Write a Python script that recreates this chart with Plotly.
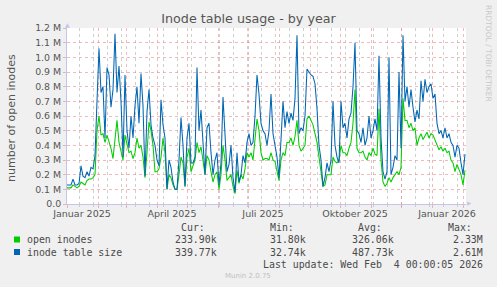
import plotly.graph_objects as go
import pandas as pd

# ---------------- data ----------------
start_date = "2025-01-01"
n_points = 200  # one value every 2 days
dates = pd.date_range(start_date, periods=n_points, freq="2D")

# inode table size (millions)
table_size_M = [
    0.13, 0.13, 0.13, 0.17, 0.13, 0.13, 0.14, 0.26, 0.19, 0.18,
    0.22, 0.19, 0.25, 0.24, 0.33, 0.70, 1.06, 0.76, 0.80, 0.45,
    0.93, 0.88, 0.66, 0.78, 1.16, 0.76, 0.94, 0.70, 0.32, 0.88,
    0.50, 0.38, 0.60, 0.45, 0.67, 0.80, 0.55, 0.89, 0.67, 0.19,
    0.63, 0.78, 0.54, 0.45, 0.40, 0.30, 0.26, 0.71, 0.54, 0.45,
    0.10, 0.30, 0.25, 0.15, 0.10, 0.10, 0.30, 0.59, 0.40, 0.12,
    0.45, 0.55, 0.28, 0.28, 0.32, 0.93, 0.50, 0.64, 0.40, 0.20,
    0.52, 0.55, 0.35, 0.20, 0.30, 0.35, 0.13, 0.28, 0.73, 0.42,
    0.22, 0.27, 0.40, 0.18, 0.08, 0.35, 0.15, 0.20, 0.33, 0.28,
    0.42, 0.48, 0.40, 0.42, 0.60, 0.88, 0.75, 0.55, 0.50, 0.48,
    0.40, 0.50, 0.75, 0.48, 0.40, 0.32, 0.18, 0.45, 0.70, 0.52,
    0.63, 0.55, 0.62, 0.57, 0.72, 1.15, 0.48, 0.52, 0.50, 0.60,
    0.92, 0.90, 0.88, 0.87, 0.82, 0.65, 0.40, 0.30, 0.12, 0.18,
    0.28, 0.22, 0.30, 0.70, 0.40, 0.32, 0.28, 0.70, 0.52, 0.55,
    0.45, 0.58, 0.62, 0.80, 1.10, 0.50, 0.48, 0.42, 0.52, 0.40,
    0.45, 0.60, 0.45, 0.50, 0.58, 0.50, 1.01, 0.45, 0.22, 0.17,
    0.22, 1.00, 0.20, 0.25, 0.33, 0.30, 0.90, 0.38, 1.15, 0.70,
    0.80, 0.66, 0.78, 0.66, 0.56, 0.64, 0.58, 0.84, 0.70, 0.85,
    0.76, 0.80, 0.82, 0.72, 0.75, 0.55, 0.48, 0.50, 0.45, 0.52,
    0.45, 0.48, 0.42, 0.40, 0.32, 0.40, 0.38, 0.28, 0.20, 0.34,
]

# open inodes (millions)
open_inodes_M = [
    0.11, 0.11, 0.11, 0.13, 0.12, 0.11, 0.12, 0.15, 0.14, 0.13,
    0.16, 0.17, 0.17, 0.18, 0.20, 0.50, 0.60, 0.47, 0.48, 0.42,
    0.47, 0.42, 0.38, 0.31, 0.45, 0.57, 0.42, 0.36, 0.30, 0.47,
    0.40, 0.35, 0.36, 0.31, 0.35, 0.45, 0.38, 0.40, 0.32, 0.18,
    0.35, 0.56, 0.50, 0.40, 0.22, 0.22, 0.24, 0.32, 0.45, 0.35,
    0.10, 0.20, 0.18, 0.13, 0.10, 0.10, 0.20, 0.32, 0.28, 0.12,
    0.32, 0.38, 0.22, 0.26, 0.30, 0.42, 0.35, 0.39, 0.30, 0.20,
    0.33, 0.30, 0.22, 0.15, 0.20, 0.22, 0.10, 0.20, 0.40, 0.30,
    0.16, 0.18, 0.20, 0.12, 0.07, 0.23, 0.14, 0.20, 0.17, 0.24,
    0.35, 0.32, 0.35, 0.30, 0.45, 0.58, 0.50, 0.35, 0.30, 0.31,
    0.31, 0.30, 0.35, 0.30, 0.29, 0.22, 0.16, 0.30, 0.35, 0.33,
    0.42, 0.42, 0.45, 0.40, 0.46, 0.57, 0.40, 0.36, 0.38, 0.40,
    0.58, 0.60, 0.57, 0.54, 0.48, 0.42, 0.32, 0.22, 0.12, 0.13,
    0.20, 0.20, 0.20, 0.32, 0.29, 0.28, 0.30, 0.40, 0.35, 0.35,
    0.33, 0.38, 0.42, 0.55, 0.78, 0.38, 0.35, 0.35, 0.36, 0.32,
    0.30, 0.35, 0.33, 0.38, 0.34, 0.33, 0.65, 0.30, 0.15, 0.12,
    0.14, 0.18, 0.15, 0.18, 0.20, 0.22, 0.20, 0.25, 0.72, 0.57,
    0.57, 0.52, 0.55, 0.50, 0.52, 0.40, 0.45, 0.48, 0.44, 0.47,
    0.49, 0.45, 0.48, 0.47, 0.44, 0.40, 0.37, 0.39, 0.36, 0.38,
    0.35, 0.36, 0.30, 0.28, 0.22, 0.27, 0.24, 0.20, 0.13, 0.23,
]

y_tick_values_M = [0.0, 0.1, 0.2, 0.3, 0.4, 0.5, 0.6, 0.7, 0.8, 0.9, 1.0, 1.1, 1.2]
y_tick_text = ["0.0", "0.1 M", "0.2 M", "0.3 M", "0.4 M", "0.5 M", "0.6 M",
               "0.7 M", "0.8 M", "0.9 M", "1.0 M", "1.1 M", "1.2 M"]

x_label_dates = ["2025-01-16", "2025-04-16", "2025-07-16", "2025-10-16", "2026-01-16"]
x_label_text = ["Januar 2025", "April 2025", "Juli 2025", "Oktober 2025", "Januar 2026"]

x_range = ["2025-01-01", "2026-02-04"]
month_starts = pd.date_range("2025-01-01", "2026-02-01", freq="MS")
biweekly = pd.date_range("2025-01-13", "2026-02-03", freq="14D")

series_names = ["open inodes", "inode table size"]
series_colors = ["#00CC00", "#0066B3"]
cur_vals = ["233.90k", "339.77k"]
min_vals = ["31.80k", "32.74k"]
avg_vals = ["326.06k", "487.73k"]
max_vals = ["2.33M", "2.61M"]
last_update = "Last update: Wed Feb  4 00:00:05 2026"

# ---------------- layout geometry ----------------
W, H = 497, 287
L, R, T, B = 67, 466, 28, 204


def px(x):
    return (x - L) / (R - L)


def py(y):
    return (B - y) / (B - T)


RED_GRID = "rgba(230,130,130,0.55)"
GREY_GRID = "rgba(195,195,195,0.8)"
AXIS_COL = "#c4c4ee"
TXT = "#555555"

fig = go.Figure()
# empty helper trace on the base axis (grid carrier)
fig.add_trace(go.Scatter(x=[], y=[], showlegend=False))

series_values = [open_inodes_M, table_size_M]
for name, col, vals in zip(series_names, series_colors, series_values):
    fig.add_trace(go.Scatter(
        x=dates, y=[v * 1e6 for v in vals], mode="lines", name=name,
        xaxis="x2", line=dict(color=col, width=1.05), showlegend=False,
        hoverinfo="skip"))

fig.update_layout(
    width=W, height=H,
    margin=dict(l=L, r=W - R, t=T, b=H - B),
    paper_bgcolor="#f0f0f0", plot_bgcolor="white",
    title=dict(text="Inode table usage - by year", x=0.5, xref="container",
               y=1 - 19 / H, yref="container", xanchor="center", yanchor="middle",
               font=dict(family="DejaVu Sans", size=12.7, color=TXT)),
    # base axis: month grid (red) + biweekly minor grid (grey)
    xaxis=dict(type="date", range=x_range, tickmode="array",
               tickvals=list(month_starts), showticklabels=False,
               ticks="outside", ticklen=3, tickcolor=RED_GRID,
               showgrid=True, gridcolor=RED_GRID, griddash="dot", gridwidth=1,
               zeroline=False, showline=True, linecolor=AXIS_COL, linewidth=1,
               minor=dict(tickmode="array", tickvals=list(biweekly), showgrid=True,
                          gridcolor=GREY_GRID, griddash="dot", gridwidth=1,
                          ticks="outside", ticklen=2, tickcolor=GREY_GRID)),
    # overlay axis: carries data and the month labels
    xaxis2=dict(type="date", range=x_range, overlaying="x", anchor="y", side="bottom",
                tickmode="array", tickvals=x_label_dates, ticktext=x_label_text,
                ticks="", showgrid=False, zeroline=False, showline=False,
                ticklabelstandoff=2,
                tickfont=dict(family="DejaVu Sans", size=9.5, color=TXT)),
    yaxis=dict(range=[0, 1.2e6], tickmode="array",
               tickvals=[v * 1e6 for v in y_tick_values_M], ticktext=y_tick_text,
               showgrid=True, gridcolor=RED_GRID, griddash="dot", gridwidth=1,
               zeroline=False, showline=True, linecolor=AXIS_COL, linewidth=1,
               ticks="outside", ticklen=3, tickcolor=RED_GRID,
               tickfont=dict(family="DejaVu Sans", size=9.4, color=TXT)),
)

ann = []
# axis arrows
ann.append(dict(text="▲", x=px(67), y=py(24), xref="paper", yref="paper",
                showarrow=False, font=dict(size=6, color=AXIS_COL, family="DejaVu Sans"),
                xanchor="center", yanchor="middle", borderpad=0, borderwidth=0))
ann.append(dict(text="▶", x=px(469.5), y=py(203), xref="paper", yref="paper",
                showarrow=False, font=dict(size=5.5, color=AXIS_COL, family="DejaVu Sans"),
                xanchor="center", yanchor="middle", borderpad=0, borderwidth=0))
# y-axis title
ann.append(dict(text="number of open inodes", x=px(11), y=py(118), xref="paper", yref="paper",
                showarrow=False, textangle=-90,
                font=dict(family="DejaVu Sans", size=11, color=TXT),
                xanchor="center", yanchor="middle", borderpad=0, borderwidth=0))
# watermark
ann.append(dict(text="RRDTOOL / TOBI OETIKER", x=px(488.5), y=py(53.5), xref="paper", yref="paper",
                showarrow=False, textangle=90,
                font=dict(family="DejaVu Sans", size=7.5, color="#c8c8c8"),
                xanchor="center", yanchor="middle", borderpad=0, borderwidth=0))

MONO = dict(family="DejaVu Sans Mono", size=9.9, color="#4a4a4a")


def text_at(s, x, y, anchor, font=MONO):
    ann.append(dict(text=s, x=px(x), y=py(y), xref="paper", yref="paper",
                    showarrow=False, xanchor=anchor, yanchor="middle",
                    font=font, borderpad=0, borderwidth=0))


col_right = [217, 305.5, 394, 483.5]
headers = ["Cur:", "Min:", "Avg:", "Max:"]
for h, xr in zip(headers, col_right):
    text_at(h, xr - 36, 228, "left")

row_y = [239.5, 252]
shapes = []
for i, (name, col) in enumerate(zip(series_names, series_colors)):
    yy = row_y[i]
    shapes.append(dict(type="rect", xref="paper", yref="paper",
                       x0=px(14), x1=px(20), y0=py(yy - 3), y1=py(yy + 3),
                       fillcolor=col, line=dict(width=0)))
    text_at(name, 26.5, yy, "left")
    for vals, xr in zip([cur_vals, min_vals, avg_vals, max_vals], col_right):
        text_at(vals[i], xr, yy, "right")

text_at(last_update, 483, 264, "right")
text_at("Munin 2.0.75", 248, 276, "center",
        font=dict(family="DejaVu Sans", size=7, color="#c0c0c0"))

fig.update_layout(annotations=ann, shapes=shapes)
fig.write_html("out.html")
